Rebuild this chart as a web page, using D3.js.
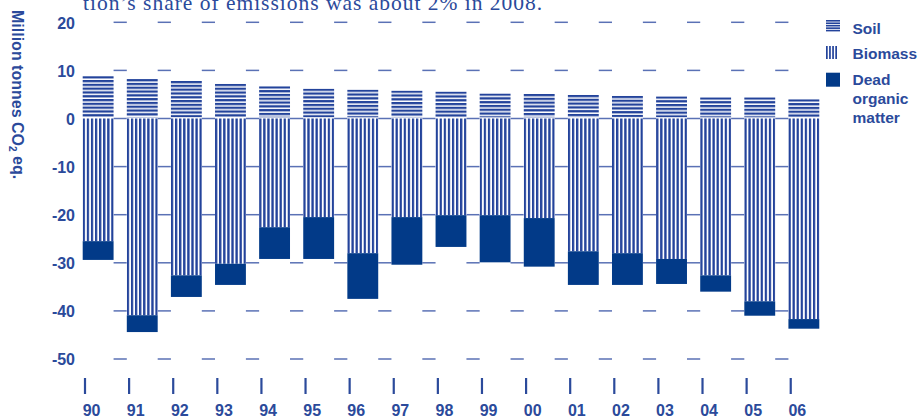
<!DOCTYPE html>
<html>
<head>
<meta charset="utf-8">
<script src="https://cdn.jsdelivr.net/npm/d3@7/dist/d3.min.js"></script>
<style>
  html, body { margin: 0; padding: 0; background: #fff; }
  svg { display: block; }
</style>
</head>
<body>
<svg id="chart" width="919" height="417"></svg>
<script>
// Net emissions and removals in the forest sector, million tonnes CO2 eq.
const years = ["90", "91", "92", "93", "94", "95", "96", "97", "98", "99", "00", "01", "02", "03", "04", "05", "06"];
const soil = [8.8, 8.2, 7.8, 7.2, 6.7, 6.2, 6.0, 5.8, 5.6, 5.2, 5.1, 4.9, 4.7, 4.6, 4.4, 4.4, 4.0];
const biomass = [-25.5, -40.9, -32.6, -30.2, -22.6, -20.5, -28.0, -20.5, -20.1, -20.1, -20.7, -27.6, -28.0, -29.2, -32.6, -38.0, -41.7];
const deadOrganicMatter = [-3.9, -3.5, -4.5, -4.4, -6.6, -8.7, -9.5, -9.9, -6.6, -9.8, -10.1, -7.0, -6.6, -5.2, -3.4, -3.0, -2.0];
const yTicks = [20, 10, 0, -10, -20, -30, -40, -50];
const legendLabels = [["Soil"], ["Biomass"], ["Dead", "organic", "matter"]];
const headline = "tion\u2019s share of emissions was about 2% in 2008.";

const textBlue = "#2b4a9b";
const stripeBlue = "#23439b";
const solidBlue = "#023a88";
const gridBlue = "#5a71b5";
const sans = "'Liberation Sans', Arial, Helvetica, sans-serif";

const svg = d3.select("#chart");
const defs = svg.append("defs");

const x = d3.scaleBand().domain(years).range([82.7, 819.3]).paddingInner(0.3).paddingOuter(0);
const y = d3.scaleLinear().domain([-50, 20]).range([359, 22.3]);
const bw = x.bandwidth();

// Running text above the chart (its top runs off the edge)
svg.append("text")
  .attr("x", 83).attr("y", 10)
  .attr("textLength", 459).attr("lengthAdjust", "spacing")
  .style("font-family", "'Liberation Serif', 'Times New Roman', serif")
  .style("font-size", "21.5px")
  .attr("fill", textBlue)
  .text(headline);

// Vertical axis title
const title = svg.append("text")
  .attr("transform", "translate(11.5,10) rotate(90)")
  .style("font-family", sans).style("font-weight", "bold").style("font-size", "16px")
  .attr("fill", textBlue);
title.append("tspan").text("Million tonnes CO");
title.append("tspan").attr("dy", "0.25em").style("font-size", "10px").text("2");
title.append("tspan").attr("dy", "-0.25em").text(" eq.");

// Grid lines: short segments in the gaps between neighbouring bars
const gaps = d3.pairs(years).map(([a, b]) => [x(a) + bw, x(b)]);
const gridSegs = yTicks.flatMap(v => gaps.map(g => ({ v, x1: g[0], x2: g[1] })));
svg.append("g").selectAll("line").data(gridSegs).join("line")
  .attr("x1", d => d.x1).attr("x2", d => d.x2)
  .attr("y1", d => y(d.v)).attr("y2", d => y(d.v))
  .attr("stroke", gridBlue).attr("stroke-width", 1.5);

// Y axis labels
const yAxis = svg.append("g").attr("transform", "translate(75,0)")
  .call(d3.axisLeft(y).tickValues(yTicks).tickSize(0).tickPadding(0).tickFormat(d => String(d)));
yAxis.select(".domain").remove();
yAxis.selectAll("text")
  .style("font-family", sans).style("font-weight", "bold").style("font-size", "16px")
  .attr("fill", textBlue).attr("dy", "0.36em");

// Per-bar stripe patterns so every bar starts on a full stripe
const hPeriod = 3.8, hDark = 2.3;
const vDark = 2.3, vPeriod = (bw - vDark) / 7;

years.forEach((yr, i) => {
  const ph = defs.append("pattern")
    .attr("id", "soil-" + i).attr("patternUnits", "userSpaceOnUse")
    .attr("x", x(yr)).attr("y", y(soil[i]))
    .attr("width", bw).attr("height", hPeriod);
  ph.append("rect").attr("width", bw).attr("height", hPeriod).attr("fill", "#fff");
  ph.append("rect").attr("width", bw).attr("height", hDark).attr("fill", stripeBlue);

  const pv = defs.append("pattern")
    .attr("id", "bio-" + i).attr("patternUnits", "userSpaceOnUse")
    .attr("x", x(yr)).attr("y", 0)
    .attr("width", vPeriod).attr("height", 20);
  pv.append("rect").attr("width", vPeriod).attr("height", 20).attr("fill", "#fff");
  pv.append("rect").attr("width", vDark).attr("height", 20).attr("fill", stripeBlue);
});

const bars = svg.append("g");
// Soil (positive, horizontal stripes)
bars.selectAll("rect.soil").data(years).join("rect").attr("class", "soil")
  .attr("x", d => x(d)).attr("width", bw)
  .attr("y", (d, i) => y(soil[i]))
  .attr("height", (d, i) => y(0) - y(soil[i]) - 1.2)
  .attr("fill", (d, i) => `url(#soil-${i})`);
// Biomass (negative, vertical stripes)
bars.selectAll("rect.bio").data(years).join("rect").attr("class", "bio")
  .attr("x", d => x(d)).attr("width", bw)
  .attr("y", y(0))
  .attr("height", (d, i) => y(biomass[i]) - y(0))
  .attr("fill", (d, i) => `url(#bio-${i})`);
// Dead organic matter (stacked below biomass, solid)
bars.selectAll("rect.dom").data(years).join("rect").attr("class", "dom")
  .attr("x", d => x(d)).attr("width", bw)
  .attr("y", (d, i) => y(biomass[i]))
  .attr("height", (d, i) => y(biomass[i] + deadOrganicMatter[i]) - y(biomass[i]))
  .attr("fill", solidBlue);

// Year ticks and labels
const xg = svg.append("g");
xg.selectAll("line").data(years).join("line")
  .attr("x1", d => x(d) + 2.3).attr("x2", d => x(d) + 2.3)
  .attr("y1", 378).attr("y2", 394)
  .attr("stroke", textBlue).attr("stroke-width", 2.2);
xg.selectAll("text").data(years).join("text")
  .attr("x", d => x(d)).attr("y", 415.5)
  .style("font-family", sans).style("font-weight", "bold").style("font-size", "16px")
  .attr("fill", textBlue)
  .text(d => d);

// Legend
const lg = svg.append("g");
const iconX = 826, textX = 852.5;
// Soil icon: horizontal lines
lg.selectAll("rect.ls").data(d3.range(5)).join("rect").attr("class", "ls")
  .attr("x", iconX).attr("width", 14)
  .attr("y", k => 20 + k * 2.45).attr("height", 1.6)
  .attr("fill", stripeBlue);
// Biomass icon: vertical lines
lg.selectAll("rect.lb").data(d3.range(4)).join("rect").attr("class", "lb")
  .attr("x", k => iconX + k * 3.1).attr("width", 1.7)
  .attr("y", 46).attr("height", 13)
  .attr("fill", stripeBlue);
// Dead organic matter icon: solid square
lg.append("rect").attr("x", iconX).attr("y", 72.7).attr("width", 14).attr("height", 14).attr("fill", solidBlue);

const legendBaselines = [34, 59, 85];
legendLabels.forEach((lines, i) => {
  const t = lg.append("text")
    .attr("x", textX).attr("y", legendBaselines[i])
    .style("font-family", sans).style("font-weight", "bold").style("font-size", "15.5px")
    .attr("fill", textBlue);
  lines.forEach((ln, j) => {
    t.append("tspan").attr("x", textX).attr("dy", j === 0 ? 0 : 19).text(ln);
  });
});
</script>
</body>
</html>
